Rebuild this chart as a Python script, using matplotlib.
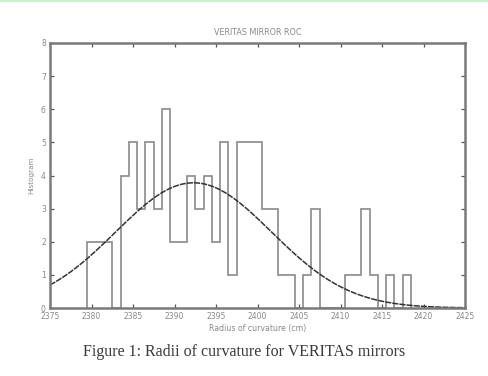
import numpy as np
import matplotlib
matplotlib.use("Agg")
import matplotlib.pyplot as plt
from matplotlib.patches import Rectangle

# ---- data ----
bin_centers = [2380, 2381, 2382, 2383, 2384, 2385, 2386, 2387, 2388, 2389,
               2390, 2391, 2392, 2393, 2394, 2395, 2396, 2397, 2398, 2399,
               2400, 2401, 2402, 2403, 2404, 2405, 2406, 2407, 2408, 2409,
               2410, 2411, 2412, 2413, 2414, 2415, 2416, 2417, 2418]
counts = [2, 2, 2, 0, 4, 5, 3, 5, 3, 6,
          2, 2, 4, 3, 4, 2, 5, 1, 5, 5,
          5, 3, 3, 1, 1, 0, 1, 3, 0, 0,
          0, 1, 1, 3, 1, 0, 1, 0, 1]
bin_width = 1.0

# Gaussian fit parameters
fit_amplitude = 3.78
fit_mean = 2392.3
fit_sigma = 9.4

x_ticks = [2375, 2380, 2385, 2390, 2395, 2400, 2405, 2410, 2415, 2420, 2425]
y_ticks = [0, 1, 2, 3, 4, 5, 6, 7, 8]

title = "VERITAS MIRROR ROC"
xlabel = "Radius of curvature (cm)"
ylabel = "Histogram"
caption = "Figure 1: Radii of curvature for VERITAS mirrors"

# ---- figure ----
fig = plt.figure(figsize=(4.89, 3.76), dpi=100)
fig.patch.set_facecolor("white")
# light green strip at the very top
fig.patches.append(Rectangle((0, 1 - 2.0 / 376), 1, 2.0 / 376, transform=fig.transFigure,
                             facecolor="#c8f5c8", edgecolor="none"))

ax = fig.add_axes([50 / 489, 1 - 308 / 376, 415 / 489, 265 / 376])

edges = np.concatenate([[bin_centers[0] - bin_width / 2],
                        np.array(bin_centers, dtype=float) + bin_width / 2])
ax.stairs(counts, edges, color="#8a8a8a", linewidth=1.2)

xs = np.linspace(x_ticks[0], x_ticks[-1], 400)
ys = fit_amplitude * np.exp(-0.5 * ((xs - fit_mean) / fit_sigma) ** 2)
ax.plot(xs, ys, color="#333333", linewidth=1.1, linestyle=(0, (4, 0.7)))

ax.set_xlim(x_ticks[0], x_ticks[-1])
ax.set_ylim(y_ticks[0], y_ticks[-1])
ax.set_xticks(x_ticks)
ax.set_yticks(y_ticks)
ax.set_xticklabels([str(t) for t in x_ticks])
ax.set_yticklabels([str(t) for t in y_ticks])
ax.tick_params(direction="in", top=True, right=True, length=3, width=0.9,
               color="#555555", labelsize=5.5, labelcolor="#888888", pad=3)
for s in ax.spines.values():
    s.set_color("#7a7a7a")
    s.set_linewidth(1.8)

ax.set_title(title, fontsize=5.8, color="#888888", pad=6)
ax.set_xlabel(xlabel, fontsize=5.6, color="#888888", labelpad=2)
ax.set_ylabel(ylabel, fontsize=5.2, color="#888888", labelpad=5)

fig.text(0.5, 1 - 352 / 376, caption, ha="center", va="center",
         family=["Liberation Serif", "DejaVu Serif"], fontsize=11.5, color="#3a3a3a")

fig.savefig("out.png", dpi=100)
